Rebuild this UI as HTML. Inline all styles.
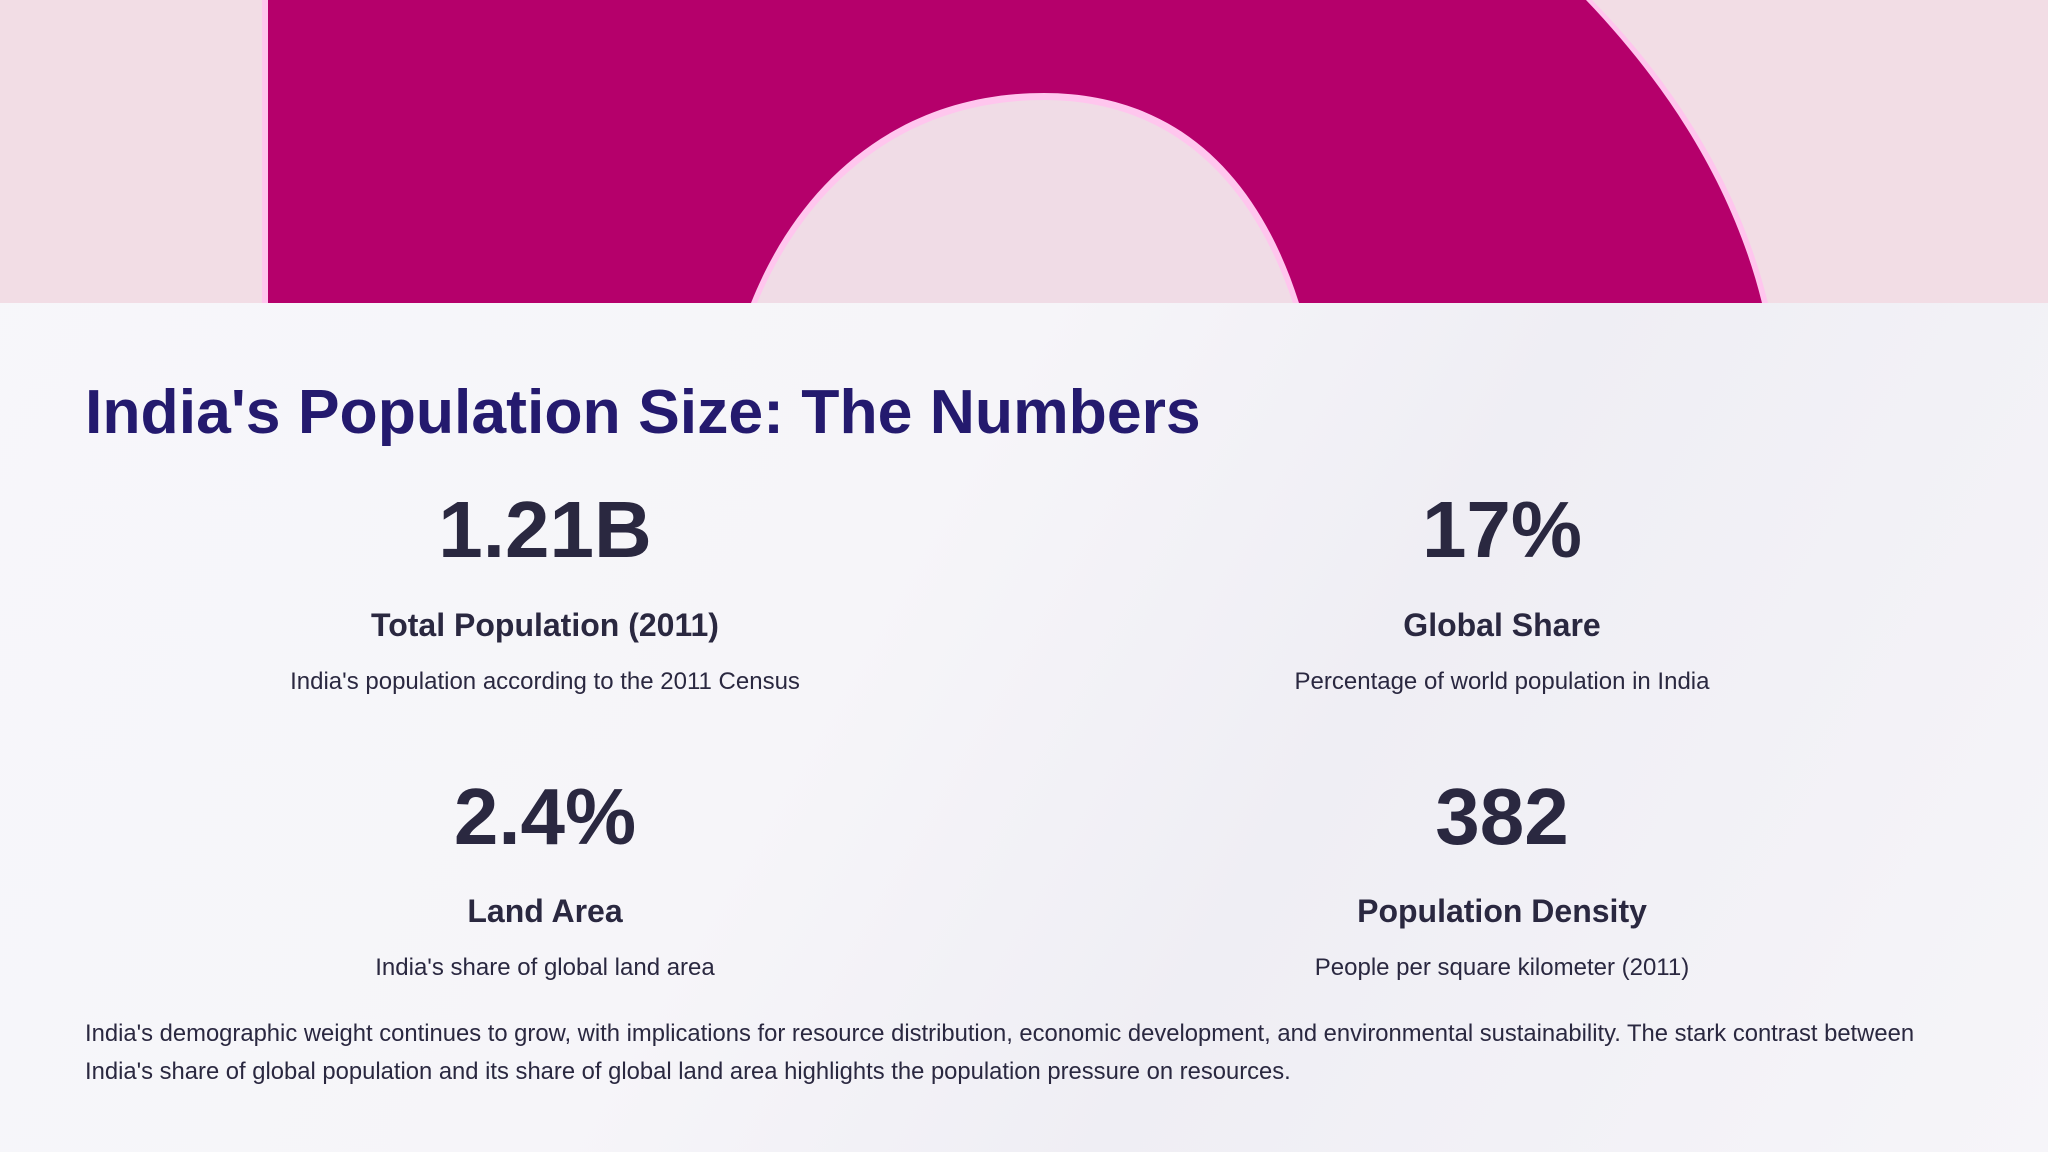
<!DOCTYPE html>
<html><head><meta charset="utf-8">
<style>
html,body{margin:0;padding:0}
body{width:2048px;height:1152px;position:relative;overflow:hidden;background:linear-gradient(120deg,#f7f7fa 0%,#f6f5f9 45%,#efeef4 65%,#f6f5f9 100%);font-family:"Liberation Sans",sans-serif}
#banner{position:absolute;left:0;top:0;width:2048px;height:303px}
.t{position:absolute;white-space:nowrap}
.c{transform:translateX(-50%);text-align:center}
h1{position:absolute;left:85px;top:376px;margin:0;font-size:62.5px;font-weight:bold;color:#241a6e;white-space:nowrap}
.num{font-size:80px;font-weight:bold;color:#2a2840;line-height:1}
.lab{font-size:32px;font-weight:bold;color:#2a2840;line-height:1}
.desc{font-size:24px;color:#2a2840;line-height:1}
.para{position:absolute;left:85px;top:1015px;width:1900px;font-size:23.8px;line-height:38px;color:#2a2840}
</style></head><body>
<svg id="banner" width="2048" height="303" viewBox="0 0 2048 303">
<rect width="2048" height="303" fill="#f2dde5"/>
<path d="M262 0 L1592 0 C1680 90 1740 190 1768 303 L262 303 Z" fill="#ffc6ee"/>
<path d="M268 0 L1586 0 C1672 90 1734 190 1762 303 L1299 303 C1260 180 1180 93 1044 93 C900 93 800 180 751 303 L268 303 Z" fill="#b5006b"/>
<path d="M757 303 C806 186 902 100 1044 100 C1176 100 1254 186 1293 303 Z" fill="#f0dce6"/>
</svg>
<h1>India's Population Size: The Numbers</h1>

<div class="t c num" style="left:545px;top:490px">1.21B</div>
<div class="t c lab" style="left:545px;top:609px">Total Population (2011)</div>
<div class="t c desc" style="left:545px;top:670px">India's population according to the 2011 Census</div>

<div class="t c num" style="left:1502px;top:490px">17%</div>
<div class="t c lab" style="left:1502px;top:609px">Global Share</div>
<div class="t c desc" style="left:1502px;top:670px">Percentage of world population in India</div>

<div class="t c num" style="left:545px;top:777px">2.4%</div>
<div class="t c lab" style="left:545px;top:895px">Land Area</div>
<div class="t c desc" style="left:545px;top:956px">India's share of global land area</div>

<div class="t c num" style="left:1502px;top:777px">382</div>
<div class="t c lab" style="left:1502px;top:895px">Population Density</div>
<div class="t c desc" style="left:1502px;top:956px">People per square kilometer (2011)</div>

<div class="para">India's demographic weight continues to grow, with implications for resource distribution, economic development, and environmental sustainability. The stark contrast between India's share of global population and its share of global land area highlights the population pressure on resources.</div>
</body></html>
